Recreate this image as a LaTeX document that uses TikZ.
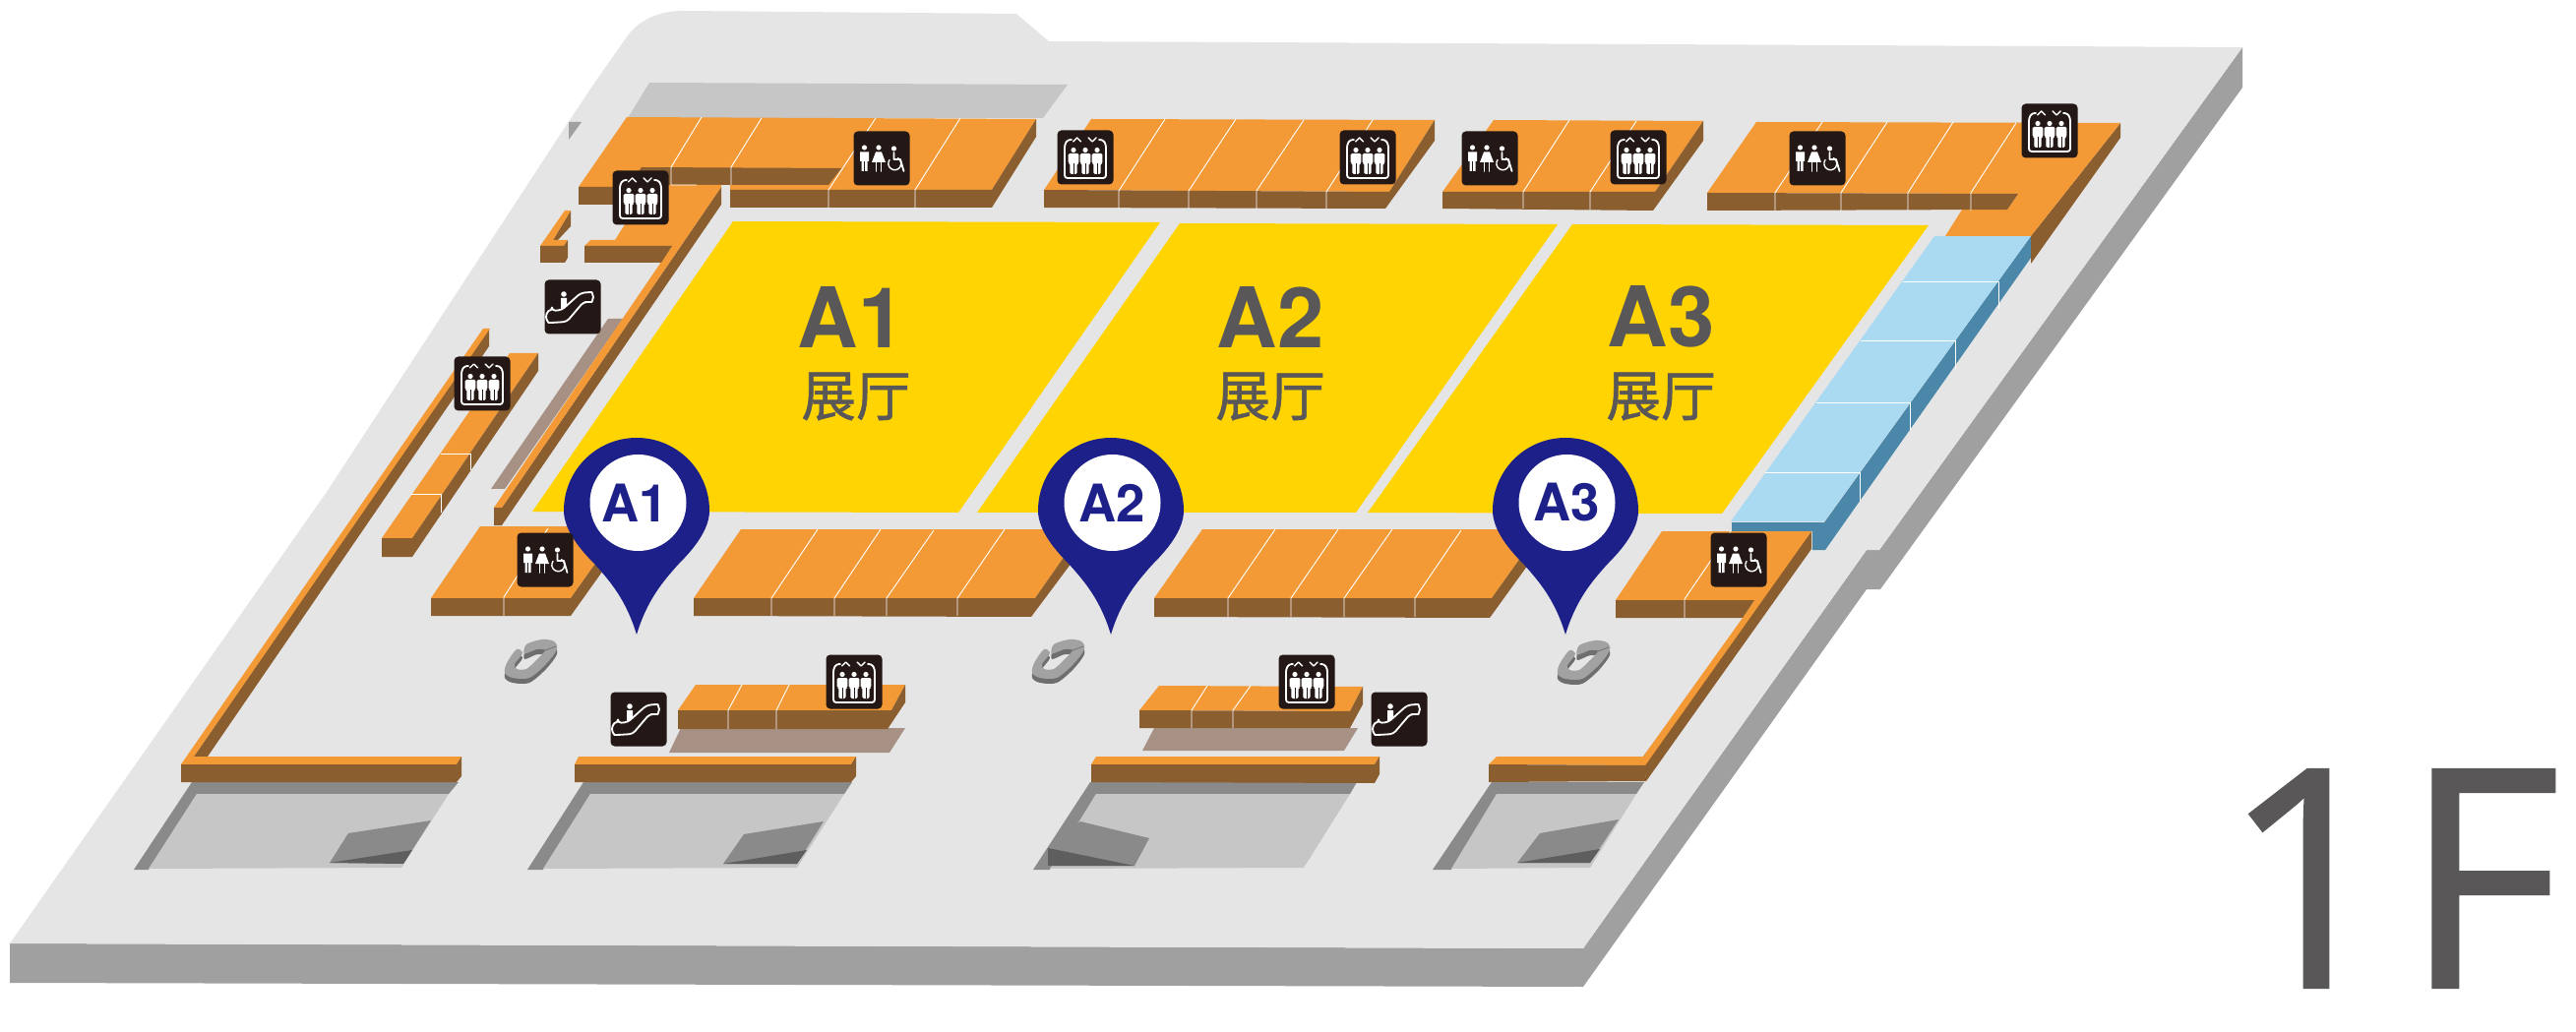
\documentclass[tikz,border=0pt]{standalone}
\usepackage{fontspec}
\setmainfont{TeX Gyre Heros}
\newfontfamily\cjkfont[FakeBold=1]{Noto Sans CJK SC}
\newfontfamily\floorfont[FakeBold=0.7]{Open Sans}
\definecolor{floorc}{HTML}{E5E5E5}
\definecolor{sidec}{HTML}{A0A0A0}
\definecolor{gatedark}{HTML}{8A8A8A}
\definecolor{gatelight}{HTML}{C6C6C6}
\definecolor{gatedeep}{HTML}{5E5E5E}
\definecolor{org}{HTML}{F39A36}
\definecolor{brn}{HTML}{8B5E30}
\definecolor{hall}{HTML}{FFD400}
\definecolor{taupe}{HTML}{A79185}
\definecolor{ink}{HTML}{231815}
\definecolor{pinblue}{HTML}{1D2088}
\definecolor{label}{HTML}{595757}
\definecolor{skyc}{HTML}{AADAF2}
\definecolor{skyd}{HTML}{4A87A8}
\definecolor{ringc}{HTML}{A2A2A2}
\definecolor{ringd}{HTML}{6E6E6E}
\tikzset{
  x=0.01cm,y=-0.01cm,
  seam/.style={draw=white,line width=0.26pt},
  hallname/.style={font=\bfseries\fontsize{24.2}{24.2}\selectfont,text=label,inner sep=0pt},
  hallsub/.style={font=\cjkfont\fontsize{15.8}{15.8}\selectfont,text=label,inner sep=0pt},
  pinname/.style={font=\bfseries\fontsize{15}{15}\selectfont,text=pinblue,inner sep=0pt},
  iconline/.style={draw=white,line width=0.52pt,line join=round,line cap=round},
  lifticon/.pic={
    \fill[ink,rounded corners=1.2pt] (-28.5,-27.5) rectangle (28.5,27.5);
    \draw[iconline,rounded corners=0.8pt] (-14,-18)--(-18,-18)--(-21,-13)--(-21,21)--(21,21)--(21,-13)--(18,-18)--(14,-18);
    \draw[iconline,line width=0.4pt] (-12.5,-16)--(-8.5,-20)--(-4.5,-16);
    \draw[iconline,line width=0.4pt] (3,-20)--(7,-16)--(11,-20);
    \foreach \i in {-12,0,12}{
      \fill[white] (\i,-7.5) circle[radius=2.6];
      \fill[white,rounded corners=0.4pt] (\i-5.4,-4)--(\i+5.4,-4)--(\i+5.4,6)--(\i+3.6,6)--(\i+3.6,17)--(\i-3.6,17)--(\i-3.6,6)--(\i-5.4,6)--cycle;
      \draw[ink,line width=0.2pt] (\i,6)--(\i,17);
    }
  },
  wcicon/.pic={
    \fill[ink,rounded corners=1.2pt] (-28.5,-27.5) rectangle (28.5,27.5);
    \fill[white] (-17.5,-11) circle[radius=2.6];
    \fill[white] (-22,-6.5)--(-13,-6.5)--(-13,3)--(-14.5,3)--(-14.5,13)--(-20.5,13)--(-20.5,3)--(-22,3)--cycle;
    \draw[ink,line width=0.2pt] (-17.5,3)--(-17.5,13);
    \fill[white] (-3,-11) circle[radius=2.6];
    \fill[white] (-6,-6.5)--(0,-6.5)--(4,4)--(-10,4)--cycle;
    \draw[iconline] (-5.5,4)--(-5.5,13) (-0.5,4)--(-0.5,13);
    \fill[white] (12.5,-10) circle[radius=2.6];
    \draw[iconline] (12.5,-6)--(12.5,1)--(19,1)--(22.5,13);
    \draw[iconline,line width=0.4pt] (8,1.5) arc[start angle=215,end angle=-60,radius=6.5];
  },
  escicon/.pic={
    \fill[ink,rounded corners=1.2pt] (-28.5,-27.5) rectangle (28.5,27.5);
    \draw[iconline,rounded corners=1pt] (-21,4)--(-11,3)--(8,-14)--(16,-15) arc[start angle=-90,end angle=90,radius=5]--(11,-5)--(-6,15)--(-21,16) arc[start angle=90,end angle=270,radius=6]--cycle;
    \fill[white] (-9,-13) circle[radius=2.8];
    \fill[white] (-12,-9)--(-6,-9)--(-6,-2)--(-10,2)--(-12,2)--cycle;
  },
  ringmark/.pic={
    \fill[ringd,yshift=-5*0.01cm] plot[smooth cycle,tension=0.5] coordinates {
        (-14,-12)(-24,2)(-26,12)(-18,17)(-1,17)(16,3)(27,-12)(24,-20)(12,-22)(-4,-17)(-6,-7)
        (7,-12)(15,-11)(7,-2)(-4,8)(-14,8)(-16,3)(-8,-8)};
    \fill[ringc] plot[smooth cycle,tension=0.5] coordinates {
        (-14,-12)(-24,2)(-26,12)(-18,17)(-1,17)(16,3)(27,-12)(24,-20)(12,-22)(-4,-17)(-6,-7)
        (7,-12)(15,-11)(7,-2)(-4,8)(-14,8)(-16,3)(-8,-8)};
    \fill[ringd] (-6,-7)--(7,-12)--(15,-11)--(11,-7)--(2,-7)--(-4,-3)--cycle;
    \draw[ringd,line width=0.2pt] (15,-11)--(26,-15);
  },
  pinmark/.pic={
    \fill[pinblue] (0,126)
      .. controls (-11,90) and (-27,72) .. (-42,55)
      .. controls (-57,40) and (-74,20) .. (-74,0)
      arc[start angle=180,end angle=360,radius=74]
      .. controls (74,20) and (57,40) .. (42,55)
      .. controls (27,72) and (11,90) .. (0,126)--cycle;
    \fill[white] (1.5,-8) circle[radius=49];
  }
}
\begin{document}
\begin{tikzpicture}
\useasboundingbox (0,0) rectangle (2618,1049);
% floor
\fill[sidec] (10,959)--(1609,964)--(1897,559)--(1910,559)--(2279,48)--(2279,89)--(1911,599)--(1897,599)--(1609,1003)--(10,999)--cycle;
\fill[floorc] (10,959)--(332,500)--(577,125)--(603,86)--(638,36) .. controls (650,20) and (670,11) .. (695,11)--(1033,14)--(1066,42)--(2279,48)--(1910,559)--(1897,559)--(1609,964)--cycle;
\fill[gatelight] (660,84)--(1085,86)--(1060,120)--(638,120)--cycle;
\fill[sidec] (578,124)--(591,124)--(578,142)--cycle;
% gates
\fill[gatedark] (195,795)--(466,795)--(456,807)--(200,807)--(151,884)--(136,884)--cycle;
\fill[gatelight] (200,807)--(456,807)--(408,882)--(151,883)--cycle;
\fill[gatedark] (354,847)--(438,834)--(410,878)--(335,877)--cycle;
\fill[gatedeep] (335,877)--(419,864)--(410,878)--cycle;
\fill[gatedark] (593,795)--(866,795)--(858,807)--(600,807)--(552,884)--(536,884)--cycle;
\fill[gatelight] (600,807)--(858,807)--(810,882)--(552,883)--cycle;
\fill[gatedark] (756,848)--(837,835)--(810,878)--(735,878)--cycle;
\fill[gatedeep] (735,878)--(820,864)--(810,878)--cycle;
\fill[gatedark] (1108,795)--(1379,795)--(1372,807)--(1114,807)--(1067,884)--(1050,884)--cycle;
\fill[gatelight] (1114,807)--(1372,807)--(1325,882)--(1067,883)--cycle;
\fill[gatedark] (1098,835)--(1168,852)--(1153,880)--(1065,880)--(1065,862)--cycle;
\fill[gatedeep] (1065,862)--(1153,880)--(1065,880)--cycle;
\fill[gatedark] (1516,795)--(1671,795)--(1663,807)--(1521,807)--(1475,884)--(1456,884)--cycle;
\fill[gatelight] (1521,807)--(1663,807)--(1616,882)--(1475,883)--cycle;
\fill[gatedark] (1565,847)--(1645,833)--(1616,877)--(1542,877)--cycle;
\fill[gatedeep] (1542,877)--(1626,863)--(1616,877)--cycle;
% taupe ramps
\fill[taupe] (618,324)--(633,324)--(513,497)--(499,497)--cycle;
\fill[taupe] (692,740)--(920,740)--(904,765)--(680,765)--cycle;
\fill[taupe] (1173,740)--(1380,740)--(1366,763)--(1161,763)--cycle;
% outer wall left and bottom walls
\fill[brn] (497,334)--(497,352)--(211,769)--(197,769)--cycle;
\fill[org] (184,777)--(491,334)--(498,334)--(197,769)--cycle;
\fill[org] (191,769)--(469,769)--(464,777)--(184,777)--cycle;
\fill[brn] (184,777)--(464,777)--(469,769)--(469,789)--(464,795)--(184,795)--cycle;
\fill[org] (588,769)--(870,769)--(865,777)--(584,777)--cycle;
\fill[brn] (584,777)--(865,777)--(870,769)--(870,789)--(865,795)--(584,795)--cycle;
\fill[org] (1114,769)--(1402,769)--(1397,777)--(1109,777)--cycle;
\fill[brn] (1109,777)--(1397,777)--(1402,769)--(1402,787)--(1397,796)--(1109,795)--cycle;
% middle left strip
\fill[org] (518,359)--(547,359)--(419,547)--(388,547)--cycle;
\fill[brn] (388,547)--(419,547)--(547,359)--(547,377)--(419,566)--(388,566)--cycle;
\draw[seam] (448,461)--(478,461)--(478,478);
\draw[seam] (418,502)--(448,502)--(448,521);
% small left L
\fill[brn] (580,214)--(580,230)--(567,244)--(562,244)--cycle;
\fill[org] (574,214)--(580,214)--(562,244)--(577,244)--(573,250)--(549,250)--cycle;
\fill[brn] (549,250)--(573,250)--(577,244)--(577,262)--(574,267)--(549,267)--cycle;
% top-left block
\fill[org] (637,119)--(1053,121)--(1008,193)--(742,193)--(742,188)--(660,188)--(660,190)--(588,190)--cycle;
\fill[brn] (588,190)--(640,190)--(623,208)--(588,208)--cycle;
\fill[brn] (652,170)--(855,171)--(842,188)--(640,188)--cycle;
\fill[brn] (742,193)--(1008,193)--(1053,121)--(1053,139)--(1008,211)--(742,211)--cycle;
\fill[brn] (733,190)--(733,208)--(510,534)--(502,534)--(502,516)--(510,516)--cycle;
\fill[org] (660,188)--(733,188)--(733,190)--(510,516)--(502,516)--(683,250)--(594,250)--(600,244)--(625,244)--cycle;
\fill[brn] (594,250)--(683,250)--(672,267)--(594,267)--cycle;
\draw[seam] (713,119)--(682,170)--(682,188)--(708,188);
\draw[seam] (774,120)--(743,170)--(743,188);
\draw[seam] (890,120)--(842,193)--(842,211);
\draw[seam] (976,120)--(930,193)--(930,211);
% top row blocks
\fill[org] (1109,121)--(1458,122)--(1412,195)--(1061,193)--cycle;
\fill[brn] (1061,193)--(1412,195)--(1458,122)--(1458,143)--(1408,212)--(1061,211)--cycle;
\draw[seam] (1184,121)--(1137,194)--(1137,212);
\draw[seam] (1256,121)--(1208,194)--(1208,212);
\draw[seam] (1325,122)--(1277,194)--(1277,212);
\draw[seam] (1395,122)--(1348,195)--(1348,212);
\fill[org] (1518,122)--(1731,123)--(1682,195)--(1466,195)--cycle;
\fill[brn] (1466,195)--(1682,195)--(1731,123)--(1731,143)--(1680,214)--(1466,212)--cycle;
\draw[seam] (1595,122)--(1548,195)--(1548,212);
\draw[seam] (1663,123)--(1616,195)--(1616,213);
% blue stairs
\fill[skyd] (1760,531)--(1854,531)--(2064,240)--(2064,262)--(1855,559)--(1842,559)--(1842,540)--(1760,540)--cycle;
\fill[skyc] (1966,240)--(2064,240)--(1854,530)--(1759,530)--cycle;
\draw[seam] (1934,286)--(2031,286)--(2031,314);
\draw[seam] (1891,346)--(1987,346)--(1987,375);
\draw[seam] (1846,409)--(1941,409)--(1941,437);
\draw[seam] (1794,480)--(1890,480)--(1890,509);
% top right block
\fill[brn] (2155,125)--(2155,140)--(2064,268)--(2064,240)--cycle;
\fill[org] (1785,124)--(2155,125)--(2064,240)--(1977,240)--(1994,213)--(2040,213)--(2051,197)--(1735,196)--cycle;
\fill[brn] (1735,196)--(2051,197)--(2040,213)--(1735,214)--cycle;
\draw[seam] (1852,124)--(1804,196)--(1804,214);
\draw[seam] (1918,124)--(1871,196)--(1871,214);
\draw[seam] (1985,124)--(1939,196)--(1939,214);
\draw[seam] (2049,125)--(2003,196)--(2003,214);
% halls
\fill[hall] (745,225)--(1179,226)--(974,521)--(541,520)--cycle;
\fill[hall] (1199,227)--(1583,228)--(1378,521)--(993,521)--cycle;
\fill[hall] (1598,228)--(1960,229)--(1750,522)--(1390,521)--cycle;
% bottom row blocks
\fill[org] (488,535)--(632,535)--(580,608)--(438,608)--cycle;
\fill[brn] (438,608)--(580,608)--(632,535)--(632,553)--(580,626)--(438,626)--cycle;
\draw[seam] (557,537)--(512,607)--(512,626);
\fill[org] (753,538)--(1101,538)--(1052,608)--(705,608)--cycle;
\fill[brn] (705,608)--(1052,608)--(1101,538)--(1101,556)--(1048,627)--(705,626)--cycle;
\draw[seam] (831,538)--(784,608)--(784,626);
\draw[seam] (895,538)--(848,608)--(848,626);
\draw[seam] (949,539)--(901,608)--(901,626);
\draw[seam] (1021,538)--(973,608)--(973,626);
\fill[org] (1222,538)--(1566,538)--(1516,608)--(1173,608)--cycle;
\fill[brn] (1173,608)--(1516,608)--(1566,538)--(1566,556)--(1514,628)--(1173,627)--cycle;
\draw[seam] (1296,538)--(1248,608)--(1248,627);
\draw[seam] (1360,538)--(1312,608)--(1312,627);
\draw[seam] (1415,538)--(1366,608)--(1366,627);
\draw[seam] (1485,539)--(1438,608)--(1438,627);
% right block with strip and wall
\fill[brn] (1841,540)--(1841,558)--(1673,794)--(1670,769)--cycle;
\fill[org] (1689,540)--(1841,540)--(1672,778)--(1513,777)--(1521,769)--(1670,769)--(1771,628)--(1783,610)--(1642,610)--cycle;
\fill[brn] (1642,610)--(1783,610)--(1771,628)--(1642,628)--cycle;
\fill[brn] (1513,777)--(1672,778)--(1673,794)--(1513,795)--cycle;
\draw[seam] (1759,540)--(1712,609)--(1712,628);
% centre blocks
\fill[org] (707,696)--(920,696)--(906,722)--(689,722)--cycle;
\fill[brn] (689,722)--(906,722)--(920,696)--(920,714)--(902,741)--(689,741)--cycle;
\draw[seam] (754,696)--(740,722)--(740,741);
\draw[seam] (802,696)--(789,722)--(789,741);
\fill[org] (1178,697)--(1385,698)--(1372,723)--(1158,722)--cycle;
\fill[brn] (1158,722)--(1372,723)--(1385,698)--(1385,716)--(1372,740)--(1158,740)--cycle;
\draw[seam] (1227,697)--(1211,722)--(1211,740);
\draw[seam] (1271,697)--(1253,722)--(1253,740);
% rings
\pic at (539,672) {ringmark};
\pic at (1075,672) {ringmark};
\pic at (1609,673) {ringmark};
% pins
\pic at (647,519) {pinmark};
\pic at (1129,519) {pinmark};
\pic at (1591,519) {pinmark};
% icons
\pic at (651,201) {lifticon};
\pic at (490,390) {lifticon};
\pic at (1103,160) {lifticon};
\pic at (1390,160) {lifticon};
\pic at (1665,160) {lifticon};
\pic at (2083,133) {lifticon};
\pic at (868,693) {lifticon};
\pic at (1328,693) {lifticon};
\pic at (896,161) {wcicon};
\pic at (1514,161) {wcicon};
\pic at (1847,161) {wcicon};
\pic at (554,569) {wcicon};
\pic at (1767,569) {wcicon};
\pic at (582,312) {escicon};
\pic at (649,731) {escicon};
\pic at (1422,731) {escicon};
% labels
\node[hallname] (hallA) at (865,322) {A1};
\node[hallsub] (hallAs) at (870,403) {展厅};
\node[hallname] (hallB) at (1291,322) {A2};
\node[hallsub] (hallBs) at (1291,403) {展厅};
\node[hallname] (hallC) at (1688,322) {A3};
\node[hallsub] (hallCs) at (1688,403) {展厅};
\node[pinname] (pinA) at (645,511) {A1};
\node[pinname] (pinB) at (1130,511) {A2};
\node[pinname] (pinC) at (1592,511) {A3};
\node[anchor=base west,inner sep=0pt,text=label] (floorname) at (2257,1004) {\floorfont\fontsize{88.4}{88.4}\selectfont 1\kern 1.9pt F};
\end{tikzpicture}
\end{document}
